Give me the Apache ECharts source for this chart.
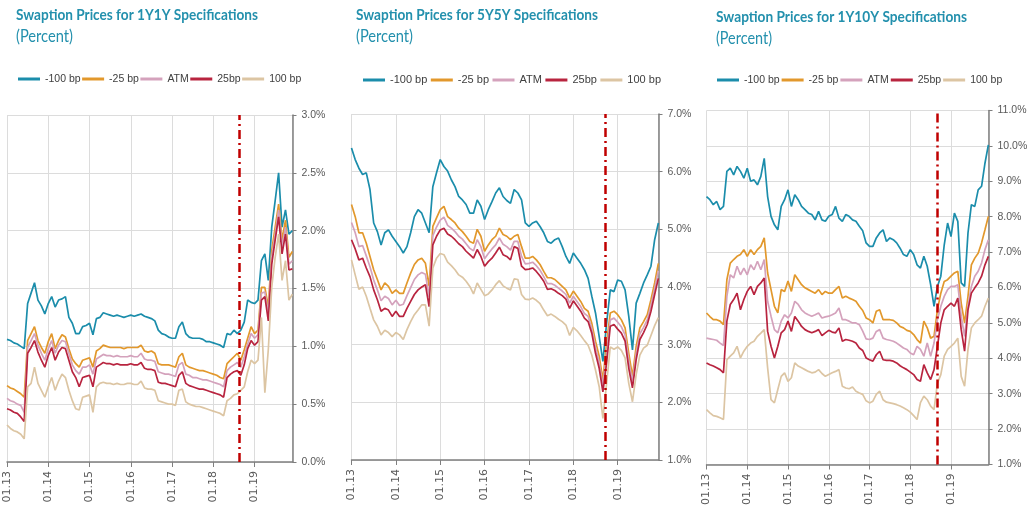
<!DOCTYPE html>
<html>
<head>
<meta charset="utf-8">
<script src="https://cdn.jsdelivr.net/npm/echarts@6/dist/echarts.min.js"></script>
<style>
  html, body { margin: 0; padding: 0; background: #fff; }
  #chart { width: 1030px; height: 511px; }
</style>
</head>
<body>
<div id="chart"></div>
<script>
const seriesNames = ["-100 bp", "-25 bp", "ATM", "25bp", "100 bp"];
const yearLabels = ["01.13", "01.14", "01.15", "01.16", "01.17", "01.18", "01.19"];
const startYear = 2013; // monthly observations from Jan 2013

// ---- 1Y1Y ----
const p1Minus100 = [
  1.06, 1.05, 1.03, 1.02, 1.00, 0.98, 1.37, 1.46, 1.55, 1.40, 1.35, 1.28,
  1.37, 1.43, 1.34, 1.40, 1.41, 1.43, 1.25, 1.20, 1.11, 1.11, 1.17, 1.18,
  1.20, 1.10, 1.24, 1.25, 1.29, 1.28, 1.27, 1.26, 1.27, 1.26, 1.25, 1.26,
  1.27, 1.26, 1.27, 1.28, 1.26, 1.25, 1.24, 1.22, 1.14, 1.11, 1.10, 1.08,
  1.07, 1.07, 1.17, 1.21, 1.11, 1.08, 1.07, 1.07, 1.07, 1.06, 1.04, 1.04,
  1.03, 1.02, 1.01, 0.99, 1.11, 1.10, 1.14, 1.11, 1.14, 1.21, 1.40, 1.38,
  1.37, 1.40, 1.74, 1.80, 1.57, 2.03, 2.26, 2.50, 2.03, 2.18, 1.97, 2.00];
const p1Minus25 = [
  0.66, 0.64, 0.63, 0.61, 0.59, 0.56, 1.05, 1.11, 1.17, 1.05, 0.99, 0.94,
  1.04, 1.11, 0.98, 1.05, 1.10, 1.08, 0.98, 0.89, 0.85, 0.82, 0.88, 0.89,
  0.90, 0.82, 0.96, 0.98, 1.01, 1.00, 0.99, 0.99, 0.99, 0.99, 0.98, 0.99,
  0.99, 0.99, 0.99, 1.01, 0.96, 0.95, 0.96, 0.94, 0.85, 0.84, 0.84, 0.84,
  0.83, 0.82, 0.91, 0.94, 0.84, 0.82, 0.81, 0.80, 0.79, 0.79, 0.78, 0.77,
  0.76, 0.75, 0.73, 0.72, 0.85, 0.88, 0.91, 0.94, 0.88, 0.97, 1.07, 1.17,
  1.11, 1.14, 1.51, 1.51, 1.34, 1.83, 2.03, 2.23, 1.92, 2.09, 1.77, 1.82];
const p1Atm = [
  0.55, 0.53, 0.52, 0.50, 0.49, 0.43, 0.99, 1.05, 1.11, 1.01, 0.94, 0.88,
  0.98, 1.05, 0.94, 1.01, 1.05, 1.04, 0.94, 0.84, 0.79, 0.76, 0.82, 0.82,
  0.84, 0.76, 0.89, 0.91, 0.93, 0.92, 0.92, 0.91, 0.92, 0.91, 0.91, 0.91,
  0.92, 0.91, 0.91, 0.94, 0.89, 0.88, 0.88, 0.87, 0.78, 0.77, 0.76, 0.76,
  0.75, 0.74, 0.84, 0.86, 0.76, 0.75, 0.73, 0.73, 0.72, 0.71, 0.71, 0.70,
  0.69, 0.68, 0.67, 0.65, 0.79, 0.82, 0.84, 0.86, 0.82, 0.91, 1.02, 1.11,
  1.07, 1.10, 1.46, 1.47, 1.28, 1.77, 1.97, 2.18, 1.86, 2.03, 1.71, 1.74];
const p1Plus25 = [
  0.46, 0.45, 0.43, 0.42, 0.39, 0.35, 0.94, 0.99, 1.05, 0.95, 0.88, 0.82,
  0.92, 0.99, 0.88, 0.95, 0.99, 0.98, 0.88, 0.78, 0.73, 0.65, 0.73, 0.74,
  0.75, 0.65, 0.82, 0.84, 0.86, 0.85, 0.85, 0.84, 0.85, 0.84, 0.84, 0.84,
  0.85, 0.84, 0.84, 0.86, 0.81, 0.80, 0.80, 0.79, 0.69, 0.68, 0.68, 0.67,
  0.66, 0.65, 0.75, 0.78, 0.68, 0.66, 0.65, 0.64, 0.63, 0.63, 0.62, 0.61,
  0.60, 0.59, 0.58, 0.56, 0.73, 0.76, 0.78, 0.79, 0.75, 0.84, 0.98, 1.05,
  1.01, 1.04, 1.40, 1.43, 1.22, 1.71, 1.92, 2.12, 1.80, 1.97, 1.66, 1.67];
const p1Plus100 = [
  0.32, 0.29, 0.27, 0.26, 0.24, 0.20, 0.65, 0.68, 0.82, 0.68, 0.62, 0.56,
  0.65, 0.73, 0.62, 0.70, 0.76, 0.73, 0.62, 0.53, 0.46, 0.45, 0.56, 0.57,
  0.58, 0.43, 0.65, 0.68, 0.69, 0.68, 0.68, 0.67, 0.68, 0.67, 0.67, 0.68,
  0.68, 0.67, 0.67, 0.70, 0.64, 0.63, 0.63, 0.62, 0.53, 0.52, 0.51, 0.50,
  0.50, 0.49, 0.62, 0.63, 0.52, 0.50, 0.49, 0.48, 0.48, 0.47, 0.46, 0.45,
  0.44, 0.43, 0.42, 0.40, 0.53, 0.55, 0.58, 0.59, 0.62, 0.65, 0.78, 0.88,
  0.85, 0.88, 1.25, 0.60, 0.97, 1.51, 1.77, 1.97, 1.57, 1.74, 1.40, 1.45];

// ---- 5Y5Y ----
const p2Minus100 = [
  6.41, 6.21, 6.06, 5.95, 5.98, 5.69, 5.11, 4.96, 4.73, 4.94, 4.99, 4.88,
  4.79, 4.70, 4.59, 4.70, 4.94, 5.22, 5.34, 5.28, 5.11, 4.94, 5.74, 5.98,
  6.21, 6.09, 6.01, 5.86, 5.74, 5.57, 5.51, 5.43, 5.28, 5.28, 5.51, 5.40,
  5.17, 5.34, 5.48, 5.63, 5.72, 5.57, 5.50, 5.45, 5.69, 5.63, 5.51, 5.11,
  5.05, 5.11, 5.14, 5.05, 4.94, 4.79, 4.76, 4.82, 4.85, 4.70, 4.53, 4.41,
  4.59, 4.50, 4.41, 4.30, 4.15, 3.84, 3.55, 3.14, 2.71, 3.37, 3.95, 3.92,
  4.12, 4.10, 3.95, 3.49, 2.91, 3.72, 3.89, 4.07, 4.21, 4.36, 4.82, 5.11];
const p2Minus25 = [
  5.43, 5.22, 4.94, 4.94, 4.76, 4.53, 4.30, 4.13, 3.95, 4.07, 4.01, 3.89,
  3.95, 3.89, 3.89, 4.07, 4.24, 4.39, 4.47, 4.50, 4.41, 4.01, 5.05, 5.20,
  5.34, 5.40, 5.22, 5.17, 5.11, 5.02, 4.96, 4.88, 4.79, 4.76, 5.00, 4.88,
  4.62, 4.73, 4.82, 4.88, 5.02, 4.91, 4.88, 4.82, 4.88, 4.91, 4.70, 4.50,
  4.50, 4.53, 4.47, 4.39, 4.27, 4.16, 4.16, 4.13, 4.07, 4.01, 3.95, 3.81,
  3.93, 3.84, 3.75, 3.63, 3.58, 3.37, 3.06, 2.80, 2.39, 3.03, 3.55, 3.58,
  3.52, 3.43, 3.29, 2.85, 2.45, 2.97, 3.29, 3.40, 3.52, 3.78, 4.07, 4.41];
const p2Atm = [
  5.12, 4.94, 4.70, 4.72, 4.54, 4.35, 4.12, 3.95, 3.76, 3.84, 3.80, 3.69,
  3.77, 3.68, 3.70, 3.85, 3.99, 4.13, 4.21, 4.25, 4.22, 3.83, 4.89, 5.04,
  5.16, 5.21, 5.07, 5.02, 4.96, 4.88, 4.83, 4.75, 4.67, 4.63, 4.82, 4.70,
  4.49, 4.58, 4.66, 4.73, 4.85, 4.74, 4.70, 4.64, 4.79, 4.79, 4.53, 4.40,
  4.41, 4.43, 4.37, 4.29, 4.18, 4.06, 4.06, 4.03, 3.98, 3.93, 3.87, 3.72,
  3.84, 3.75, 3.66, 3.54, 3.49, 3.28, 2.95, 2.69, 2.28, 2.85, 3.43, 3.46,
  3.39, 3.31, 3.17, 2.72, 2.35, 2.85, 3.19, 3.30, 3.43, 3.68, 3.97, 4.28];
const p2Plus25 = [
  4.82, 4.66, 4.47, 4.50, 4.33, 4.18, 3.95, 3.78, 3.58, 3.63, 3.60, 3.49,
  3.58, 3.49, 3.49, 3.63, 3.75, 3.87, 3.95, 4.00, 4.04, 3.66, 4.73, 4.88,
  4.99, 5.02, 4.92, 4.88, 4.82, 4.75, 4.70, 4.62, 4.56, 4.50, 4.65, 4.53,
  4.36, 4.44, 4.50, 4.59, 4.69, 4.56, 4.53, 4.47, 4.70, 4.67, 4.36, 4.30,
  4.31, 4.33, 4.27, 4.19, 4.10, 3.96, 3.97, 3.94, 3.89, 3.85, 3.79, 3.63,
  3.76, 3.67, 3.58, 3.46, 3.40, 3.20, 2.85, 2.59, 2.18, 2.68, 3.32, 3.35,
  3.27, 3.20, 3.06, 2.59, 2.25, 2.74, 3.09, 3.21, 3.35, 3.58, 3.87, 4.15];
const p2Plus100 = [
  4.47, 4.21, 3.96, 4.00, 3.84, 3.63, 3.43, 3.32, 3.17, 3.25, 3.21, 3.14,
  3.21, 3.17, 3.09, 3.26, 3.40, 3.52, 3.60, 3.69, 3.69, 3.32, 4.33, 4.50,
  4.58, 4.56, 4.43, 4.37, 4.30, 4.21, 4.17, 4.10, 4.01, 3.88, 4.07, 3.96,
  3.85, 3.88, 3.95, 4.04, 4.11, 4.02, 3.98, 3.95, 4.14, 4.13, 3.87, 3.79,
  3.78, 3.81, 3.77, 3.71, 3.60, 3.50, 3.53, 3.49, 3.44, 3.40, 3.34, 3.16,
  3.30, 3.24, 3.16, 3.07, 2.99, 2.82, 2.56, 2.27, 1.72, 2.33, 2.96, 2.92,
  2.96, 2.90, 2.77, 2.33, 2.01, 2.48, 2.82, 2.94, 2.99, 3.16, 3.33, 3.47];

// ---- 1Y10Y ----
const p3Minus100 = [
  8.57, 8.48, 8.34, 8.43, 8.20, 8.29, 9.28, 9.37, 9.18, 9.42, 9.28, 9.09,
  9.37, 9.00, 9.04, 8.90, 9.14, 9.65, 8.57, 8.01, 7.77, 7.63, 8.29, 8.48,
  8.76, 8.29, 8.62, 8.48, 8.29, 8.20, 8.10, 8.06, 7.91, 8.15, 7.91, 7.87,
  8.01, 8.06, 8.29, 7.96, 7.87, 8.06, 8.01, 7.91, 7.87, 7.73, 7.60, 7.26,
  7.16, 7.16, 7.40, 7.54, 7.63, 7.30, 7.40, 7.35, 7.26, 7.11, 6.93, 6.88,
  7.07, 6.93, 6.64, 6.55, 6.88, 6.60, 6.08, 5.47, 6.03, 6.32, 7.20, 7.82,
  7.44, 8.10, 7.87, 6.13, 6.03, 7.54, 8.34, 8.29, 8.76, 8.86, 9.51, 10.03];
const p3Minus25 = [
  5.28, 5.18, 5.09, 5.09, 5.05, 4.95, 6.22, 6.69, 6.79, 6.88, 6.93, 7.07,
  6.88, 7.07, 6.93, 7.07, 7.16, 7.40, 6.41, 5.94, 5.47, 5.28, 5.94, 5.89,
  6.18, 5.89, 6.36, 6.22, 6.08, 5.99, 5.94, 5.89, 5.84, 5.94, 5.80, 5.89,
  5.84, 5.84, 5.94, 6.03, 5.70, 5.75, 5.70, 5.66, 5.61, 5.47, 5.35, 5.14,
  5.09, 5.00, 5.33, 5.37, 5.09, 5.09, 5.09, 5.07, 5.00, 4.90, 4.86, 4.79,
  4.76, 4.67, 4.53, 4.43, 5.05, 4.86, 4.57, 4.62, 5.37, 5.84, 6.17, 6.22,
  6.32, 6.41, 6.46, 5.56, 5.00, 5.75, 6.64, 6.83, 6.97, 7.26, 7.63, 8.01];
const p3Atm = [
  4.57, 4.55, 4.53, 4.51, 4.43, 4.36, 5.75, 6.36, 6.27, 6.60, 6.36, 6.55,
  6.36, 6.64, 6.50, 6.74, 6.50, 6.79, 5.61, 5.19, 4.81, 4.72, 5.05, 5.23,
  5.14, 5.28, 5.61, 5.52, 5.37, 5.28, 5.23, 5.19, 5.23, 5.28, 5.14, 5.17,
  5.19, 5.23, 5.28, 5.42, 5.09, 5.09, 5.05, 5.00, 5.00, 4.95, 4.77, 4.55,
  4.53, 4.57, 4.76, 4.81, 4.57, 4.53, 4.51, 4.48, 4.43, 4.36, 4.29, 4.25,
  4.15, 4.10, 4.34, 4.25, 4.06, 4.43, 4.06, 4.43, 5.09, 5.47, 5.75, 5.94,
  6.03, 6.03, 6.08, 5.19, 4.62, 5.47, 6.03, 6.32, 6.46, 6.69, 7.07, 7.35];
const p3Plus25 = [
  3.87, 3.82, 3.78, 3.73, 3.68, 3.59, 5.05, 5.52, 5.66, 5.84, 5.37, 5.66,
  5.89, 6.03, 5.80, 6.03, 6.13, 6.27, 4.76, 4.34, 4.01, 4.34, 4.72, 4.81,
  5.05, 4.76, 5.18, 5.05, 4.90, 4.81, 4.76, 4.72, 4.76, 4.81, 4.64, 4.72,
  4.79, 4.74, 4.72, 4.86, 4.48, 4.53, 4.51, 4.48, 4.43, 4.29, 4.22, 4.01,
  3.96, 3.92, 4.10, 4.20, 3.96, 3.94, 3.94, 3.92, 3.87, 3.79, 3.73, 3.68,
  3.61, 3.54, 3.40, 3.35, 3.82, 3.59, 3.40, 3.68, 4.34, 5.00, 5.37, 5.47,
  5.56, 5.47, 5.70, 4.81, 4.20, 5.37, 5.84, 5.99, 6.13, 6.32, 6.64, 6.88];
const p3Plus100 = [
  2.55, 2.46, 2.38, 2.36, 2.32, 2.27, 3.96, 4.06, 4.15, 4.34, 4.01, 4.20,
  4.34, 4.43, 4.48, 4.62, 4.71, 4.81, 3.73, 2.83, 2.74, 3.12, 3.49, 3.59,
  3.35, 3.45, 3.87, 3.78, 3.73, 3.68, 3.63, 3.59, 3.61, 3.68, 3.57, 3.49,
  3.54, 3.59, 3.63, 3.68, 3.21, 3.16, 3.14, 3.19, 3.07, 3.02, 2.98, 2.80,
  2.74, 2.79, 2.98, 3.07, 2.83, 2.76, 2.74, 2.72, 2.69, 2.65, 2.60, 2.55,
  2.48, 2.38, 2.27, 2.75, 2.93, 2.83, 2.65, 2.55, 3.30, 3.54, 4.06, 4.25,
  4.34, 4.43, 4.57, 3.49, 3.21, 4.25, 4.86, 5.00, 5.09, 5.19, 5.47, 5.70];

// date of the vertical marker, in years
const markerDates = [2018.62, 2018.71, 2018.67];

const colors = ["#1b8dab", "#e2982c", "#d4a2bc", "#b8243f", "#dcc5a3"];
const titleColor = "#2390ad";
const axisColor = "#7f7f7f";
const gridColor = "#dcdcdc";

const panels = [
  { title: "Swaption Prices for 1Y1Y Specifications", data: [p1Minus100, p1Minus25, p1Atm, p1Plus25, p1Plus100],
    grid: { left: 7, top: 115, width: 285.5, height: 347 }, y: [0, 3, 0.5],
    titlePos: [16, 14.8, 242], subPos: [16, 36.8, 57], legend: [18, 72, 10.5, 1.5] },
  { title: "Swaption Prices for 5Y5Y Specifications", data: [p2Minus100, p2Minus25, p2Atm, p2Plus25, p2Plus100],
    grid: { left: 351.5, top: 114, width: 307, height: 346 }, y: [1, 7, 1],
    titlePos: [356, 14.8, 242], subPos: [356, 36.8, 57], legend: [363, 73, 11, 3.5] },
  { title: "Swaption Prices for 1Y10Y Specifications", data: [p3Minus100, p3Minus25, p3Atm, p3Plus25, p3Plus100],
    grid: { left: 706.5, top: 110.5, width: 282, height: 354 }, y: [1, 11, 1],
    titlePos: [716, 16.8, 251], subPos: [716, 39, 56], legend: [717, 73, 10.5, 2] }
];

const measureCtx = document.createElement("canvas").getContext("2d");
function fitScale(text, font, width) {
  measureCtx.font = font;
  return width / measureCtx.measureText(text).width;
}
function titleText(text, pos, font) {
  return {
    type: "text", x: pos[0], y: pos[1], scaleX: fitScale(text, font, pos[2]), silent: true,
    style: { text: text, font: font, fill: titleColor, verticalAlign: "middle" }
  };
}

const isYear = (v) => Math.abs(v - Math.round(v)) < 1e-6;

const option = {
  animation: false,
  graphic: panels.flatMap((p) => [
    titleText(p.title, p.titlePos, "bold 16px Lato"),
    titleText("(Percent)", p.subPos, "17px Lato")
  ]),
  legend: panels.map((p) => ({
    data: seriesNames,
    left: p.legend[0], top: p.legend[1], padding: 0,
    icon: "rect", itemWidth: 22, itemHeight: 3, itemGap: p.legend[3],
    selectedMode: false,
    textStyle: { fontFamily: "Liberation Sans", fontSize: p.legend[2], color: "#404040", lineHeight: 14 }
  })),
  grid: panels.map((p) => Object.assign({ containLabel: false, outerBoundsMode: "none" }, p.grid)),
  xAxis: panels.map((p, i) => ({
    type: "value", gridIndex: i, min: startYear, max: 2019.92, interval: 1,
    axisLine: { show: true, lineStyle: { color: axisColor, width: 1.5 } },
    axisTick: { show: true, length: 5, lineStyle: { color: axisColor } },
    axisLabel: {
      rotate: 90, margin: 9, color: "#595959", fontFamily: "DejaVu Sans", fontSize: 11,
      showMaxLabel: false,
      formatter: (v) => (isYear(v) ? yearLabels[Math.round(v) - startYear] || "" : "")
    },
    splitLine: { show: true, lineStyle: { color: gridColor, width: 1 } }
  })),
  yAxis: panels.map((p, i) => ({
    type: "value", gridIndex: i, position: "right",
    min: p.y[0], max: p.y[1], interval: p.y[2],
    axisLine: { show: true, lineStyle: { color: axisColor, width: 1.5 } },
    axisTick: { show: true, length: 4, lineStyle: { color: axisColor } },
    axisLabel: {
      margin: 9, color: "#595959", fontFamily: "Liberation Sans", fontSize: 10.5,
      formatter: (v) => v.toFixed(1) + "%"
    },
    splitLine: { show: true, lineStyle: { color: gridColor, width: 1 } }
  })),
  series: panels.flatMap((p, i) => p.data.map((values, k) => {
    const s = {
      name: seriesNames[k], type: "line", xAxisIndex: i, yAxisIndex: i,
      symbol: "none", showSymbol: false,
      lineStyle: { width: 1.7, color: colors[k] },
      itemStyle: { color: colors[k] },
      data: values.map((v, m) => [startYear + m / 12, v])
    };
    if (k === p.data.length - 1) {
      s.markLine = {
        silent: true, symbol: "none", label: { show: false },
        lineStyle: { color: "#c00000", width: 2.5, type: [9, 4, 2, 4] },
        emphasis: { disabled: true },
        data: [{ xAxis: markerDates[i] }]
      };
    }
    return s;
  }))
};

const myChart = echarts.init(document.getElementById("chart"));
myChart.setOption(option);
</script>
</body>
</html>
